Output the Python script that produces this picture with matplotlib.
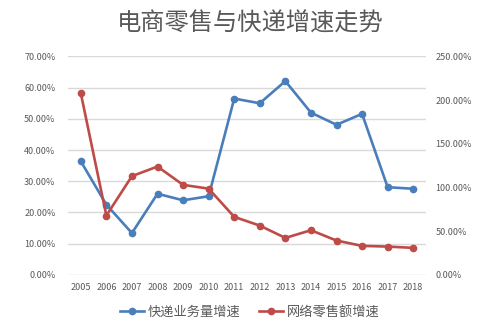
import matplotlib
matplotlib.use('Agg')
import matplotlib.pyplot as plt
from matplotlib.ticker import FuncFormatter, MultipleLocator
import numpy as np

plt.rcParams['font.family'] = ['Noto Sans CJK SC', 'DejaVu Sans']

years = ['2005', '2006', '2007', '2008', '2009', '2010', '2011',
         '2012', '2013', '2014', '2015', '2016', '2017', '2018']
# express delivery volume growth, %  (left axis)
express = [36.4, 22.5, 13.4, 26.0, 23.9, 25.2, 56.5,
           55.0, 62.1, 52.0, 48.1, 51.6, 28.1, 27.6]
# online retail sales growth, %  (right axis)
retail = [208.0, 67.9, 113.0, 124.0, 103.0, 98.7, 66.4,
          56.4, 42.3, 51.1, 39.3, 33.2, 32.4, 30.9]

title = '电商零售与快递增速走势'
labels = ['快递业务量增速', '网络零售额增速']

blue = '#4a7ebb'
red = '#be4b48'
grey = '#595959'

fig = plt.figure(figsize=(5, 3.34), dpi=100)
ax = fig.add_axes([0.136, 0.177, 0.716, 0.654])
ax2 = ax.twinx()

x = np.arange(len(years))
l1, = ax.plot(x, express, color=blue, lw=1.9, marker='o', ms=4.5)
l2, = ax2.plot(x, retail, color=red, lw=1.9, marker='o', ms=4.5)

pct = FuncFormatter(lambda v, p: '%.2f%%' % v)

ax.set_ylim(0, 70)
ax.yaxis.set_major_locator(MultipleLocator(10))
ax.yaxis.set_major_formatter(pct)
ax.grid(axis='y', color='#d9d9d9', lw=1)
ax.set_axisbelow(True)

ax2.set_ylim(0, 250)
ax2.yaxis.set_major_locator(MultipleLocator(50))
ax2.yaxis.set_major_formatter(pct)

ax.set_xlim(-0.5, len(years) - 0.5)
ax.set_xticks(x)
ax.set_xticklabels(years)

for a in (ax, ax2):
    for s in a.spines.values():
        s.set_visible(False)
    a.tick_params(length=0, labelsize=6.5, colors=grey)
ax.tick_params(axis='y', pad=9)
ax.tick_params(axis='x', pad=6)
ax2.tick_params(axis='y', pad=7)

fig.text(0.5, 0.93, title, ha='center', va='center', fontsize=17.5, color=grey)

fig.legend([l1, l2], labels, loc='center', bbox_to_anchor=(0.5, 0.066),
           ncol=2, frameon=False, fontsize=9.5, labelcolor=grey,
           handlelength=1.8, columnspacing=1.4, handletextpad=0.3)

fig.savefig('out.png', dpi=100)
